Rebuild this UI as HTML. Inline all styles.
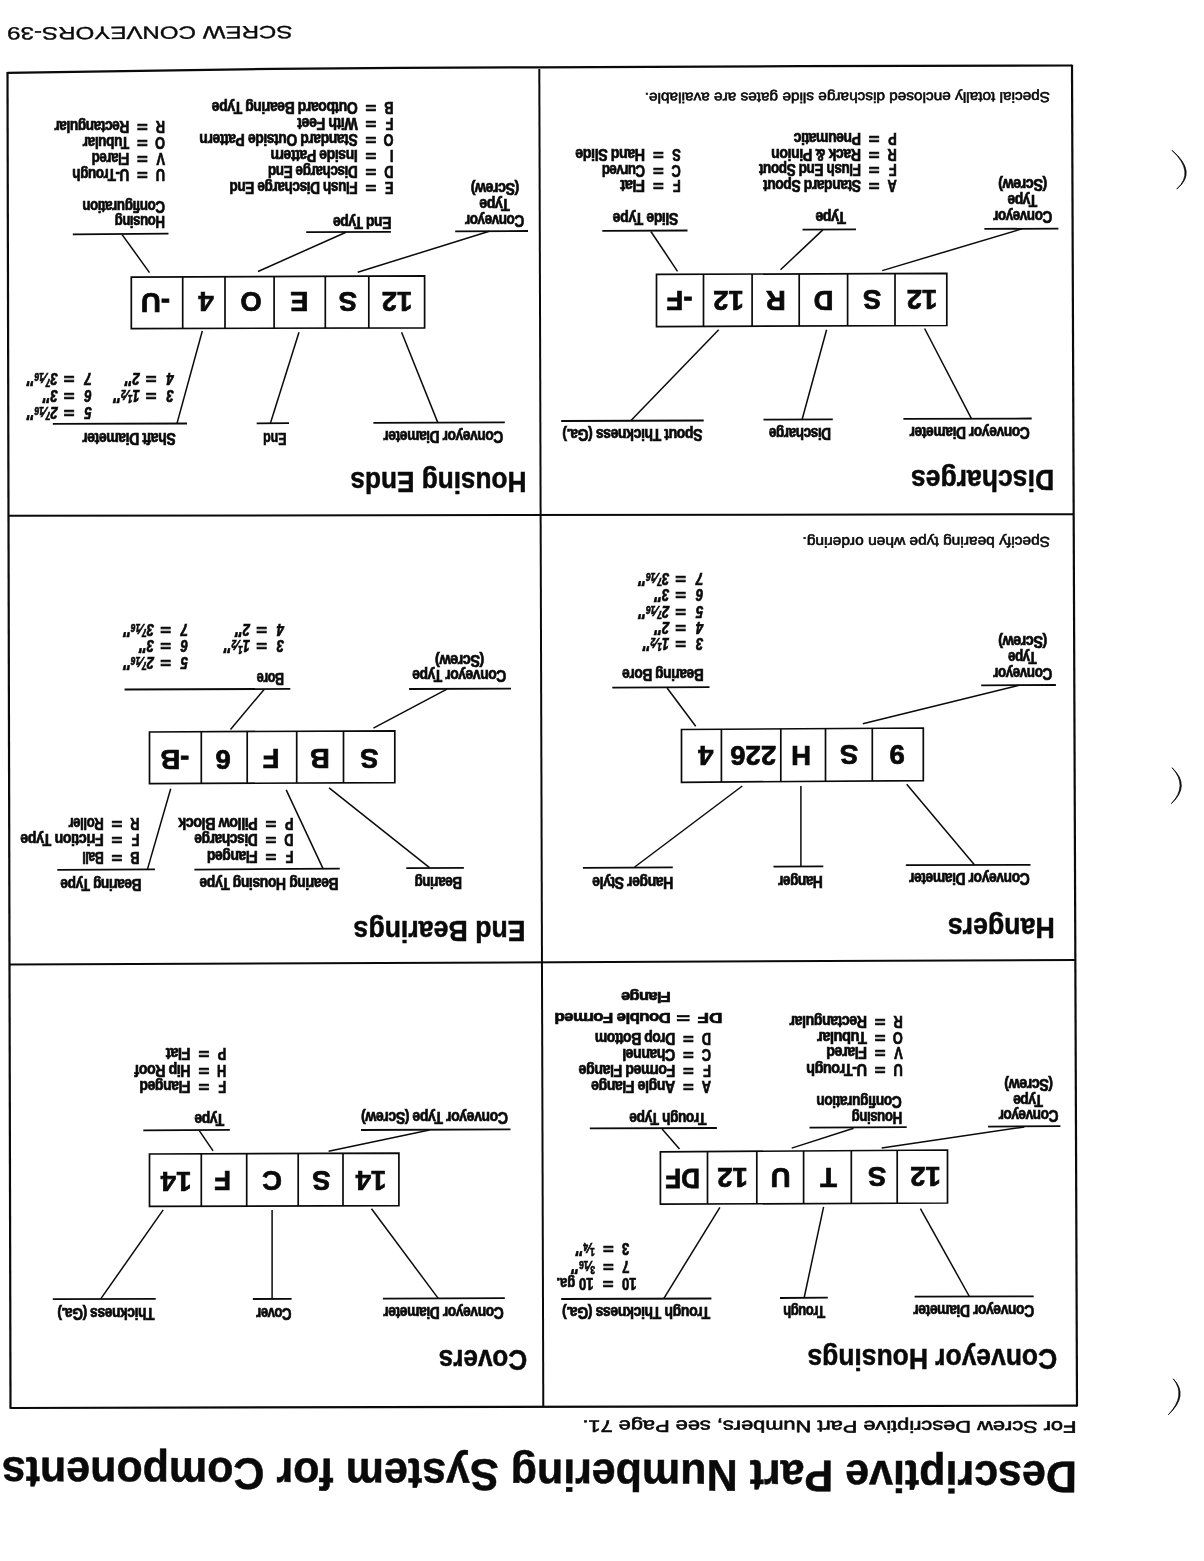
<!DOCTYPE html>
<html lang="en"><head><meta charset="utf-8"><title>Descriptive Part Numbering System for Components</title>
<style>
html,body{margin:0;padding:0;background:#fff}
svg{display:block;filter:blur(.35px)}
text{font-family:"Liberation Sans", Arial, Helvetica, sans-serif;fill:#0a0a0a;white-space:pre}
.b{font-weight:700;stroke:#0a0a0a;stroke-width:.7px}
.t{font-weight:700;stroke:#0a0a0a;stroke-width:.5px}
.x{font-weight:700;stroke:#0a0a0a;stroke-width:.75px}
.bi{font-weight:700;font-style:italic;stroke:#0a0a0a;stroke-width:.7px}
.r{font-weight:400;stroke:#0a0a0a;stroke-width:.6px}
.f{font-weight:400;stroke:#0a0a0a;stroke-width:.35px}
line,polygon,polyline,path{stroke:#0a0a0a;stroke-linecap:butt}
</style></head><body>
<svg width="1204" height="1561" viewBox="0 0 1204 1561">
<rect width="1204" height="1561" fill="#fff"/>
<polyline points="7.5,72.9 140,70.8 274,68.8 400,67.9 539,67.3 800,66.2 1072,65.5" fill="none" stroke-width="2.2"/>
<line x1="10.5" y1="1408.0" x2="1077.0" y2="1405.6" stroke-width="2.2"/>
<line x1="7.5" y1="72.0" x2="10.5" y2="1408.8" stroke-width="2.2"/>
<line x1="1072.0" y1="64.8" x2="1077.0" y2="1406.4" stroke-width="2.2"/>
<line x1="539.3" y1="69.0" x2="543.3" y2="1406.8" stroke-width="2.0"/>
<line x1="8.5" y1="515.8" x2="1073.5" y2="514.2" stroke-width="2.0"/>
<line x1="9.5" y1="964.6" x2="1075.0" y2="959.9" stroke-width="2.0"/>
<text class="f" transform="translate(292.4,25.9) rotate(179.7)" font-size="17.7" textLength="285.2" lengthAdjust="spacingAndGlyphs">SCREW CONVEYORS-39</text>
<text class="t" transform="translate(1077.1,1461.7) rotate(180.23)" font-size="44.3" textLength="1075.4" lengthAdjust="spacingAndGlyphs">Descriptive Part Numbering System for Components</text>
<text class="r" transform="translate(1076.4,1421.3) rotate(180.1)" font-size="16.6" textLength="494.0" lengthAdjust="spacingAndGlyphs">For Screw Descriptive Part Numbers, see Page 71.</text>
<path d="M1172,150.3 Q1197.8,172.3 1176.8,189 Q1195.4,172.3 1172,150.3Z" fill="#0a0a0a" stroke-width="0.8" stroke-linejoin="round"/>
<path d="M1172,767.7 Q1190.9,785.5 1171.4,803.6 Q1188.5,785.5 1172,767.7Z" fill="#0a0a0a" stroke-width="0.8" stroke-linejoin="round"/>
<path d="M1173.2,1378.8 Q1189.2,1395.2 1168.4,1414.7 Q1186.8,1395.2 1173.2,1378.8Z" fill="#0a0a0a" stroke-width="0.8" stroke-linejoin="round"/>
<text class="t" transform="translate(526.5,471.6) rotate(180)" font-size="29.5" textLength="176.2" lengthAdjust="spacingAndGlyphs">Housing Ends</text>
<polygon points="131.3,277.2 424.6,275.9 424.6,327.8 131.3,328.6" fill="none" stroke-width="1.7"/>
<line x1="182.7" y1="277.0" x2="182.7" y2="328.5" stroke-width="1.7"/>
<line x1="225.0" y1="276.8" x2="225.0" y2="328.3" stroke-width="1.7"/>
<line x1="274.1" y1="276.6" x2="274.1" y2="328.2" stroke-width="1.7"/>
<line x1="325.3" y1="276.3" x2="325.3" y2="328.1" stroke-width="1.7"/>
<line x1="368.8" y1="276.1" x2="368.8" y2="328.0" stroke-width="1.7"/>
<text class="x" transform="translate(155.5,292.6) rotate(180) scale(1.0,1)" font-size="27.5" text-anchor="middle">-U</text>
<text class="x" transform="translate(206.0,292.4) rotate(180) scale(1.0,1)" font-size="27.5" text-anchor="middle">4</text>
<text class="x" transform="translate(251.0,292.3) rotate(180) scale(1.0,1)" font-size="27.5" text-anchor="middle">O</text>
<text class="x" transform="translate(299.3,292.1) rotate(180) scale(1.0,1)" font-size="27.5" text-anchor="middle">E</text>
<text class="x" transform="translate(347.9,292.0) rotate(180) scale(1.0,1)" font-size="27.5" text-anchor="middle">S</text>
<text class="x" transform="translate(397.0,291.9) rotate(180) scale(1.0,1)" font-size="27.5" text-anchor="middle">12</text>
<text class="b" transform="translate(503.3,431.3) rotate(180) scale(0.866,1)" font-size="16.0" textLength="138.4" lengthAdjust="spacing">Conveyor Diameter</text>
<line x1="373.4" y1="422.9" x2="504.8" y2="422.4" stroke-width="1.8"/>
<line x1="401.6" y1="332.3" x2="437.7" y2="422.4" stroke-width="1.5"/>
<text class="b" transform="translate(286.6,433.2) rotate(180)" font-size="16.0" textLength="23.6" lengthAdjust="spacingAndGlyphs">End</text>
<line x1="256.7" y1="423.4" x2="289.0" y2="423.2" stroke-width="1.8"/>
<line x1="270.4" y1="423.2" x2="299.0" y2="332.3" stroke-width="1.5"/>
<text class="b" transform="translate(175.7,433.4) rotate(180) scale(0.878,1)" font-size="16.0" textLength="106.5" lengthAdjust="spacing">Shaft Diameter</text>
<line x1="52.8" y1="423.9" x2="187.0" y2="423.5" stroke-width="1.8"/>
<line x1="177.0" y1="423.4" x2="202.3" y2="331.0" stroke-width="1.5"/>
<text class="bi" transform="translate(173.7,373.2) rotate(180) scale(0.82,1)" font-size="16">4</text>
<text class="b" transform="translate(151.2,373.2) rotate(180) scale(1.15,1)" font-size="16" text-anchor="middle">=</text>
<text class="bi" transform="translate(139.7,373.2) rotate(180) scale(0.82,1)" font-size="16">2<tspan font-style="italic" font-size="19.2">″</tspan></text>
<text class="bi" transform="translate(91.7,373.2) rotate(180) scale(0.82,1)" font-size="16">7</text>
<text class="b" transform="translate(69.2,373.2) rotate(180) scale(1.15,1)" font-size="16" text-anchor="middle">=</text>
<text class="bi" transform="translate(57.7,373.2) rotate(180) scale(0.82,1)" font-size="16">3<tspan font-size="10.2" dy="-5.4">7</tspan><tspan font-size="14.4" dy="5.4">⁄</tspan><tspan font-size="10.2">16</tspan><tspan font-style="italic" font-size="19.2">″</tspan></text>
<text class="bi" transform="translate(173.7,389.6) rotate(180) scale(0.82,1)" font-size="16">3</text>
<text class="b" transform="translate(151.2,389.6) rotate(180) scale(1.15,1)" font-size="16" text-anchor="middle">=</text>
<text class="bi" transform="translate(139.7,389.6) rotate(180) scale(0.82,1)" font-size="16">1<tspan font-size="10.2" dy="-5.4">1</tspan><tspan font-size="14.4" dy="5.4">⁄</tspan><tspan font-size="10.2">2</tspan><tspan font-style="italic" font-size="19.2">″</tspan></text>
<text class="bi" transform="translate(91.7,389.6) rotate(180) scale(0.82,1)" font-size="16">6</text>
<text class="b" transform="translate(69.2,389.6) rotate(180) scale(1.15,1)" font-size="16" text-anchor="middle">=</text>
<text class="bi" transform="translate(57.7,389.6) rotate(180) scale(0.82,1)" font-size="16">3<tspan font-style="italic" font-size="19.2">″</tspan></text>
<text class="bi" transform="translate(91.7,406.6) rotate(180) scale(0.82,1)" font-size="16">5</text>
<text class="b" transform="translate(69.2,406.6) rotate(180) scale(1.15,1)" font-size="16" text-anchor="middle">=</text>
<text class="bi" transform="translate(57.7,406.6) rotate(180) scale(0.82,1)" font-size="16">2<tspan font-size="10.2" dy="-5.4">7</tspan><tspan font-size="14.4" dy="5.4">⁄</tspan><tspan font-size="10.2">16</tspan><tspan font-style="italic" font-size="19.2">″</tspan></text>
<text class="b" transform="translate(524.2,215.3) rotate(180) scale(0.852,1)" font-size="16.0" textLength="69.6" lengthAdjust="spacing">Conveyor</text>
<text class="b" transform="translate(509.8,199.3) rotate(180) scale(0.894,1)" font-size="16.0" textLength="34.1" lengthAdjust="spacing">Type</text>
<text class="b" transform="translate(519.2,183.2) rotate(180) scale(0.891,1)" font-size="16.0" textLength="54.5" lengthAdjust="spacing">(Screw)</text>
<line x1="455.2" y1="231.4" x2="528.0" y2="231.0" stroke-width="1.8"/>
<line x1="489.3" y1="231.2" x2="357.7" y2="272.3" stroke-width="1.5"/>
<text class="b" transform="translate(391.4,217.0) rotate(180) scale(0.874,1)" font-size="16.0" textLength="66.8" lengthAdjust="spacing">End Type</text>
<line x1="306.2" y1="232.2" x2="390.9" y2="231.9" stroke-width="1.8"/>
<line x1="346.0" y1="232.2" x2="258.0" y2="271.5" stroke-width="1.5"/>
<text class="b" transform="translate(165.0,216.0) rotate(180) scale(0.835,1)" font-size="16.0" textLength="60.4" lengthAdjust="spacing">Housing</text>
<text class="b" transform="translate(165.0,200.5) rotate(180) scale(0.837,1)" font-size="16.0" textLength="98.9" lengthAdjust="spacing">Configuration</text>
<line x1="72.8" y1="234.4" x2="168.5" y2="233.6" stroke-width="1.8"/>
<line x1="122.1" y1="234.6" x2="149.5" y2="272.6" stroke-width="1.5"/>
<text class="b" transform="translate(393.4,102.3) rotate(180) scale(0.8,1)" font-size="16.0">B</text>
<text class="b" transform="translate(370.9,102.3) rotate(180) scale(1.15,1)" font-size="16.0" text-anchor="middle">=</text>
<text class="b" transform="translate(357.7,102.3) rotate(180) scale(0.876,1)" font-size="16.0" textLength="166.6" lengthAdjust="spacing">Outboard Bearing Type</text>
<text class="b" transform="translate(393.4,118.1) rotate(180) scale(0.8,1)" font-size="16.0">F</text>
<text class="b" transform="translate(370.9,118.1) rotate(180) scale(1.15,1)" font-size="16.0" text-anchor="middle">=</text>
<text class="b" transform="translate(357.7,118.1) rotate(180) scale(0.890,1)" font-size="16.0" textLength="67.8" lengthAdjust="spacing">With Feet</text>
<text class="b" transform="translate(393.4,134.0) rotate(180) scale(0.8,1)" font-size="16.0">O</text>
<text class="b" transform="translate(370.9,134.0) rotate(180) scale(1.15,1)" font-size="16.0" text-anchor="middle">=</text>
<text class="b" transform="translate(357.7,134.0) rotate(180) scale(0.870,1)" font-size="16.0" textLength="182.0" lengthAdjust="spacing">Standard Outside Pattern</text>
<text class="b" transform="translate(393.4,149.8) rotate(180) scale(0.8,1)" font-size="16.0">I</text>
<text class="b" transform="translate(370.9,149.8) rotate(180) scale(1.15,1)" font-size="16.0" text-anchor="middle">=</text>
<text class="b" transform="translate(357.7,149.8) rotate(180) scale(0.875,1)" font-size="16.0" textLength="99.8" lengthAdjust="spacing">Inside Pattern</text>
<text class="b" transform="translate(393.4,165.6) rotate(180) scale(0.8,1)" font-size="16.0">D</text>
<text class="b" transform="translate(370.9,165.6) rotate(180) scale(1.15,1)" font-size="16.0" text-anchor="middle">=</text>
<text class="b" transform="translate(357.7,165.6) rotate(180) scale(0.850,1)" font-size="16.0" textLength="105.7" lengthAdjust="spacing">Discharge End</text>
<text class="b" transform="translate(393.4,181.5) rotate(180) scale(0.8,1)" font-size="16.0">E</text>
<text class="b" transform="translate(370.9,181.5) rotate(180) scale(1.15,1)" font-size="16.0" text-anchor="middle">=</text>
<text class="b" transform="translate(357.7,181.5) rotate(180) scale(0.855,1)" font-size="16.0" textLength="150.1" lengthAdjust="spacing">Flush Discharge End</text>
<text class="b" transform="translate(165.0,120.6) rotate(180) scale(0.8,1)" font-size="16.0">R</text>
<text class="b" transform="translate(142.5,120.6) rotate(180) scale(1.15,1)" font-size="16.0" text-anchor="middle">=</text>
<text class="b" transform="translate(129.3,120.6) rotate(180) scale(0.860,1)" font-size="16.0" textLength="87.2" lengthAdjust="spacing">Rectangular</text>
<text class="b" transform="translate(165.0,136.6) rotate(180) scale(0.8,1)" font-size="16.0">O</text>
<text class="b" transform="translate(142.5,136.6) rotate(180) scale(1.15,1)" font-size="16.0" text-anchor="middle">=</text>
<text class="b" transform="translate(129.3,136.6) rotate(180) scale(0.859,1)" font-size="16.0" textLength="54.2" lengthAdjust="spacing">Tubular</text>
<text class="b" transform="translate(165.0,152.6) rotate(180) scale(0.8,1)" font-size="16.0">V</text>
<text class="b" transform="translate(142.5,152.6) rotate(180) scale(1.15,1)" font-size="16.0" text-anchor="middle">=</text>
<text class="b" transform="translate(129.3,152.6) rotate(180) scale(0.830,1)" font-size="16.0" textLength="45.3" lengthAdjust="spacing">Flared</text>
<text class="b" transform="translate(165.0,168.8) rotate(180) scale(0.8,1)" font-size="16.0">U</text>
<text class="b" transform="translate(142.5,168.8) rotate(180) scale(1.15,1)" font-size="16.0" text-anchor="middle">=</text>
<text class="b" transform="translate(129.3,168.8) rotate(180) scale(0.850,1)" font-size="16.0" textLength="67.1" lengthAdjust="spacing">U-Trough</text>
<text class="t" transform="translate(1054.2,469.6) rotate(180)" font-size="29.5" textLength="143.3" lengthAdjust="spacingAndGlyphs">Discharges</text>
<polygon points="656.5,274.4 946.8,273.4 946.8,325.5 656.5,326.6" fill="none" stroke-width="1.7"/>
<line x1="703.5" y1="274.2" x2="703.5" y2="326.4" stroke-width="1.7"/>
<line x1="752.1" y1="274.1" x2="752.1" y2="326.2" stroke-width="1.7"/>
<line x1="799.2" y1="273.9" x2="799.2" y2="326.1" stroke-width="1.7"/>
<line x1="847.6" y1="273.7" x2="847.6" y2="325.9" stroke-width="1.7"/>
<line x1="895.0" y1="273.6" x2="895.0" y2="325.7" stroke-width="1.7"/>
<text class="x" transform="translate(679.5,291.2) rotate(180) scale(1.0,1)" font-size="27.5" text-anchor="middle">-F</text>
<text class="x" transform="translate(728.5,291.0) rotate(180) scale(1.0,1)" font-size="27.5" text-anchor="middle">12</text>
<text class="x" transform="translate(775.8,290.8) rotate(180) scale(1.0,1)" font-size="27.5" text-anchor="middle">R</text>
<text class="x" transform="translate(823.5,290.6) rotate(180) scale(1.0,1)" font-size="27.5" text-anchor="middle">D</text>
<text class="x" transform="translate(872.2,290.3) rotate(180) scale(1.0,1)" font-size="27.5" text-anchor="middle">S</text>
<text class="x" transform="translate(921.9,290.1) rotate(180) scale(1.0,1)" font-size="27.5" text-anchor="middle">12</text>
<text class="b" transform="translate(1029.8,426.9) rotate(180) scale(0.868,1)" font-size="16.0" textLength="138.4" lengthAdjust="spacing">Conveyor Diameter</text>
<line x1="903.4" y1="418.9" x2="1031.7" y2="418.5" stroke-width="1.8"/>
<line x1="924.6" y1="328.5" x2="971.4" y2="418.7" stroke-width="1.5"/>
<text class="b" transform="translate(831.0,427.5) rotate(180) scale(0.852,1)" font-size="16.0" textLength="73.0" lengthAdjust="spacing">Discharge</text>
<line x1="763.5" y1="419.7" x2="832.8" y2="419.4" stroke-width="1.8"/>
<line x1="826.6" y1="329.8" x2="802.1" y2="419.5" stroke-width="1.5"/>
<text class="b" transform="translate(702.5,428.9) rotate(180) scale(0.879,1)" font-size="16.0" textLength="159.4" lengthAdjust="spacing">Spout Thickness (Ga.)</text>
<line x1="561.2" y1="421.0" x2="703.7" y2="420.5" stroke-width="1.8"/>
<line x1="718.7" y1="329.8" x2="631.0" y2="420.6" stroke-width="1.5"/>
<text class="b" transform="translate(1052.2,210.9) rotate(180) scale(0.849,1)" font-size="16.0" textLength="69.6" lengthAdjust="spacing">Conveyor</text>
<text class="b" transform="translate(1037.2,195.0) rotate(180) scale(0.868,1)" font-size="16.0" textLength="34.1" lengthAdjust="spacing">Type</text>
<text class="b" transform="translate(1047.2,179.0) rotate(180) scale(0.900,1)" font-size="16.0" textLength="54.5" lengthAdjust="spacing">(Screw)</text>
<line x1="984.4" y1="228.9" x2="1058.4" y2="228.6" stroke-width="1.8"/>
<line x1="1021.8" y1="228.9" x2="882.2" y2="270.6" stroke-width="1.5"/>
<text class="b" transform="translate(846.1,211.6) rotate(180) scale(0.900,1)" font-size="16.0" textLength="34.1" lengthAdjust="spacing">Type</text>
<line x1="802.5" y1="229.6" x2="856.0" y2="229.3" stroke-width="1.8"/>
<line x1="822.8" y1="229.9" x2="780.5" y2="269.8" stroke-width="1.5"/>
<text class="b" transform="translate(678.3,213.2) rotate(180) scale(0.881,1)" font-size="16.0" textLength="74.4" lengthAdjust="spacing">Slide Type</text>
<line x1="602.3" y1="230.9" x2="687.5" y2="230.5" stroke-width="1.8"/>
<line x1="650.9" y1="231.5" x2="677.5" y2="271.3" stroke-width="1.5"/>
<text class="b" transform="translate(896.7,133.0) rotate(180) scale(0.8,1)" font-size="16.0">P</text>
<text class="b" transform="translate(874.2,133.0) rotate(180) scale(1.15,1)" font-size="16.0" text-anchor="middle">=</text>
<text class="b" transform="translate(861.0,133.0) rotate(180) scale(0.882,1)" font-size="16.0" textLength="76.3" lengthAdjust="spacing">Pneumatic</text>
<text class="b" transform="translate(896.7,148.7) rotate(180) scale(0.8,1)" font-size="16.0">R</text>
<text class="b" transform="translate(874.2,148.7) rotate(180) scale(1.15,1)" font-size="16.0" text-anchor="middle">=</text>
<text class="b" transform="translate(861.0,148.7) rotate(180) scale(0.885,1)" font-size="16.0" textLength="101.5" lengthAdjust="spacing">Rack &amp; Pinion</text>
<text class="b" transform="translate(896.7,164.3) rotate(180) scale(0.8,1)" font-size="16.0">F</text>
<text class="b" transform="translate(874.2,164.3) rotate(180) scale(1.15,1)" font-size="16.0" text-anchor="middle">=</text>
<text class="b" transform="translate(861.0,164.3) rotate(180) scale(0.852,1)" font-size="16.0" textLength="119.9" lengthAdjust="spacing">Flush End Spout</text>
<text class="b" transform="translate(896.7,180.0) rotate(180) scale(0.8,1)" font-size="16.0">A</text>
<text class="b" transform="translate(874.2,180.0) rotate(180) scale(1.15,1)" font-size="16.0" text-anchor="middle">=</text>
<text class="b" transform="translate(861.0,180.0) rotate(180) scale(0.872,1)" font-size="16.0" textLength="112.4" lengthAdjust="spacing">Standard Spout</text>
<text class="b" transform="translate(680.8,148.8) rotate(180) scale(0.8,1)" font-size="16.0">S</text>
<text class="b" transform="translate(658.3,148.8) rotate(180) scale(1.15,1)" font-size="16.0" text-anchor="middle">=</text>
<text class="b" transform="translate(645.1,148.8) rotate(180) scale(0.894,1)" font-size="16.0" textLength="78.0" lengthAdjust="spacing">Hand Slide</text>
<text class="b" transform="translate(680.8,164.5) rotate(180) scale(0.8,1)" font-size="16.0">C</text>
<text class="b" transform="translate(658.3,164.5) rotate(180) scale(1.15,1)" font-size="16.0" text-anchor="middle">=</text>
<text class="b" transform="translate(645.1,164.5) rotate(180) scale(0.833,1)" font-size="16.0" textLength="52.0" lengthAdjust="spacing">Curved</text>
<text class="b" transform="translate(680.8,180.4) rotate(180) scale(0.8,1)" font-size="16.0">F</text>
<text class="b" transform="translate(658.3,180.4) rotate(180) scale(1.15,1)" font-size="16.0" text-anchor="middle">=</text>
<text class="b" transform="translate(645.1,180.4) rotate(180) scale(0.928,1)" font-size="16.0" textLength="26.8" lengthAdjust="spacing">Flat</text>
<text class="r" transform="translate(1050.0,92.2) rotate(179.9)" font-size="14.3" textLength="405.3" lengthAdjust="spacingAndGlyphs">Special totally enclosed discharge slide gates are available.</text>
<text class="t" transform="translate(1054.7,918.3) rotate(180)" font-size="29.5" textLength="106.9" lengthAdjust="spacingAndGlyphs">Hangers</text>
<polygon points="681.5,729.5 923.3,728.0 923.3,780.6 681.5,782.3" fill="none" stroke-width="1.7"/>
<line x1="721.4" y1="729.3" x2="721.4" y2="782.0" stroke-width="1.7"/>
<line x1="780.8" y1="728.9" x2="780.8" y2="781.6" stroke-width="1.7"/>
<line x1="825.5" y1="728.6" x2="825.5" y2="781.3" stroke-width="1.7"/>
<line x1="872.3" y1="728.3" x2="872.3" y2="781.0" stroke-width="1.7"/>
<text class="x" transform="translate(705.8,746.0) rotate(180) scale(1.0,1)" font-size="27.5" text-anchor="middle">4</text>
<text class="x" transform="translate(753.2,745.8) rotate(180) scale(1.0,1)" font-size="27.5" text-anchor="middle">226</text>
<text class="x" transform="translate(801.0,745.5) rotate(180) scale(1.0,1)" font-size="27.5" text-anchor="middle">H</text>
<text class="x" transform="translate(849.1,745.2) rotate(180) scale(1.0,1)" font-size="27.5" text-anchor="middle">S</text>
<text class="x" transform="translate(897.2,745.0) rotate(180) scale(1.0,1)" font-size="27.5" text-anchor="middle">9</text>
<text class="b" transform="translate(1029.8,873.4) rotate(180) scale(0.873,1)" font-size="16.0" textLength="138.4" lengthAdjust="spacing">Conveyor Diameter</text>
<line x1="905.9" y1="865.2" x2="1030.5" y2="864.8" stroke-width="1.8"/>
<line x1="906.7" y1="784.3" x2="974.4" y2="864.8" stroke-width="1.5"/>
<text class="b" transform="translate(822.8,875.9) rotate(180) scale(0.861,1)" font-size="16.0" textLength="52.0" lengthAdjust="spacing">Hanger</text>
<line x1="773.5" y1="866.6" x2="823.3" y2="866.4" stroke-width="1.8"/>
<line x1="800.9" y1="786.0" x2="800.9" y2="866.2" stroke-width="1.5"/>
<text class="b" transform="translate(673.3,876.8) rotate(180) scale(0.878,1)" font-size="16.0" textLength="92.3" lengthAdjust="spacing">Hanger Style</text>
<line x1="582.9" y1="867.8" x2="672.8" y2="867.3" stroke-width="1.8"/>
<line x1="742.3" y1="786.0" x2="634.7" y2="867.0" stroke-width="1.5"/>
<text class="b" transform="translate(1052.2,667.8) rotate(180) scale(0.849,1)" font-size="16.0" textLength="69.6" lengthAdjust="spacing">Conveyor</text>
<text class="b" transform="translate(1036.7,652.2) rotate(180) scale(0.838,1)" font-size="16.0" textLength="34.1" lengthAdjust="spacing">Type</text>
<text class="b" transform="translate(1047.2,636.2) rotate(180) scale(0.900,1)" font-size="16.0" textLength="54.5" lengthAdjust="spacing">(Screw)</text>
<line x1="981.2" y1="685.4" x2="1055.9" y2="685.0" stroke-width="1.8"/>
<line x1="1019.3" y1="685.2" x2="862.8" y2="723.8" stroke-width="1.5"/>
<text class="b" transform="translate(703.7,669.4) rotate(180) scale(0.860,1)" font-size="16.0" textLength="94.8" lengthAdjust="spacing">Bearing Bore</text>
<line x1="612.3" y1="687.6" x2="709.5" y2="687.2" stroke-width="1.8"/>
<line x1="667.1" y1="688.0" x2="695.7" y2="726.3" stroke-width="1.5"/>
<text class="bi" transform="translate(703.2,572.9) rotate(180) scale(0.82,1)" font-size="16">7</text>
<text class="b" transform="translate(680.7,572.9) rotate(180) scale(1.15,1)" font-size="16" text-anchor="middle">=</text>
<text class="bi" transform="translate(669.2,572.9) rotate(180) scale(0.82,1)" font-size="16">3<tspan font-size="10.2" dy="-5.4">7</tspan><tspan font-size="14.4" dy="5.4">⁄</tspan><tspan font-size="10.2">16</tspan><tspan font-style="italic" font-size="19.2">″</tspan></text>
<text class="bi" transform="translate(703.2,589.3) rotate(180) scale(0.82,1)" font-size="16">6</text>
<text class="b" transform="translate(680.7,589.3) rotate(180) scale(1.15,1)" font-size="16" text-anchor="middle">=</text>
<text class="bi" transform="translate(669.2,589.3) rotate(180) scale(0.82,1)" font-size="16">3<tspan font-style="italic" font-size="19.2">″</tspan></text>
<text class="bi" transform="translate(703.2,605.7) rotate(180) scale(0.82,1)" font-size="16">5</text>
<text class="b" transform="translate(680.7,605.7) rotate(180) scale(1.15,1)" font-size="16" text-anchor="middle">=</text>
<text class="bi" transform="translate(669.2,605.7) rotate(180) scale(0.82,1)" font-size="16">2<tspan font-size="10.2" dy="-5.4">7</tspan><tspan font-size="14.4" dy="5.4">⁄</tspan><tspan font-size="10.2">16</tspan><tspan font-style="italic" font-size="19.2">″</tspan></text>
<text class="bi" transform="translate(703.2,622.0) rotate(180) scale(0.82,1)" font-size="16">4</text>
<text class="b" transform="translate(680.7,622.0) rotate(180) scale(1.15,1)" font-size="16" text-anchor="middle">=</text>
<text class="bi" transform="translate(669.2,622.0) rotate(180) scale(0.82,1)" font-size="16">2<tspan font-style="italic" font-size="19.2">″</tspan></text>
<text class="bi" transform="translate(703.2,637.8) rotate(180) scale(0.82,1)" font-size="16">3</text>
<text class="b" transform="translate(680.7,637.8) rotate(180) scale(1.15,1)" font-size="16" text-anchor="middle">=</text>
<text class="bi" transform="translate(669.2,637.8) rotate(180) scale(0.82,1)" font-size="16">1<tspan font-size="10.2" dy="-5.4">1</tspan><tspan font-size="14.4" dy="5.4">⁄</tspan><tspan font-size="10.2">2</tspan><tspan font-style="italic" font-size="19.2">″</tspan></text>
<text class="r" transform="translate(1050.0,536.9) rotate(179.9)" font-size="14.3" textLength="247.5" lengthAdjust="spacingAndGlyphs">Specify bearing type when ordering.</text>
<text class="t" transform="translate(525.5,921.0) rotate(180)" font-size="29.5" textLength="172.0" lengthAdjust="spacingAndGlyphs">End Bearings</text>
<polygon points="149.5,732.0 394.8,730.8 394.8,782.6 149.5,783.7" fill="none" stroke-width="1.7"/>
<line x1="201.3" y1="731.7" x2="201.3" y2="783.5" stroke-width="1.7"/>
<line x1="247.2" y1="731.5" x2="247.2" y2="783.3" stroke-width="1.7"/>
<line x1="296.7" y1="731.3" x2="296.7" y2="783.0" stroke-width="1.7"/>
<line x1="343.5" y1="731.1" x2="343.5" y2="782.8" stroke-width="1.7"/>
<text class="x" transform="translate(174.8,749.8) rotate(180) scale(1.0,1)" font-size="27.5" text-anchor="middle">-B</text>
<text class="x" transform="translate(223.1,749.6) rotate(180) scale(1.0,1)" font-size="27.5" text-anchor="middle">6</text>
<text class="x" transform="translate(271.1,749.4) rotate(180) scale(1.0,1)" font-size="27.5" text-anchor="middle">F</text>
<text class="x" transform="translate(319.9,749.2) rotate(180) scale(1.0,1)" font-size="27.5" text-anchor="middle">B</text>
<text class="x" transform="translate(369.4,749.0) rotate(180) scale(1.0,1)" font-size="27.5" text-anchor="middle">S</text>
<text class="b" transform="translate(461.9,877.2) rotate(180) scale(0.842,1)" font-size="16.0" textLength="56.2" lengthAdjust="spacing">Bearing</text>
<line x1="406.3" y1="868.2" x2="463.9" y2="867.8" stroke-width="1.8"/>
<line x1="329.1" y1="787.9" x2="429.5" y2="867.6" stroke-width="1.5"/>
<text class="b" transform="translate(338.6,877.8) rotate(180) scale(0.875,1)" font-size="16.0" textLength="159.1" lengthAdjust="spacing">Bearing Housing Type</text>
<line x1="194.4" y1="869.6" x2="339.8" y2="868.6" stroke-width="1.8"/>
<line x1="286.2" y1="789.9" x2="322.9" y2="868.4" stroke-width="1.5"/>
<text class="b" transform="translate(141.5,879.0) rotate(180) scale(0.859,1)" font-size="16.0" textLength="94.5" lengthAdjust="spacing">Bearing Type</text>
<line x1="57.3" y1="869.9" x2="155.0" y2="869.4" stroke-width="1.8"/>
<line x1="170.7" y1="788.7" x2="147.5" y2="869.1" stroke-width="1.5"/>
<text class="b" transform="translate(506.3,670.4) rotate(180) scale(0.873,1)" font-size="16.0" textLength="107.9" lengthAdjust="spacing">Conveyor Type</text>
<text class="b" transform="translate(484.3,654.6) rotate(180) scale(0.904,1)" font-size="16.0" textLength="54.5" lengthAdjust="spacing">(Screw)</text>
<line x1="409.1" y1="689.0" x2="511.0" y2="688.6" stroke-width="1.8"/>
<line x1="447.0" y1="689.2" x2="373.4" y2="728.2" stroke-width="1.5"/>
<text class="b" transform="translate(284.1,672.6) rotate(180) scale(0.797,1)" font-size="16.0" textLength="34.4" lengthAdjust="spacing">Bore</text>
<line x1="124.6" y1="689.5" x2="290.3" y2="688.9" stroke-width="1.8"/>
<line x1="264.1" y1="689.4" x2="230.5" y2="729.5" stroke-width="1.5"/>
<text class="bi" transform="translate(284.1,624.0) rotate(180) scale(0.82,1)" font-size="16">4</text>
<text class="b" transform="translate(261.6,624.0) rotate(180) scale(1.15,1)" font-size="16" text-anchor="middle">=</text>
<text class="bi" transform="translate(250.1,624.0) rotate(180) scale(0.82,1)" font-size="16">2<tspan font-style="italic" font-size="19.2">″</tspan></text>
<text class="bi" transform="translate(188.1,624.0) rotate(180) scale(0.82,1)" font-size="16">7</text>
<text class="b" transform="translate(165.6,624.0) rotate(180) scale(1.15,1)" font-size="16" text-anchor="middle">=</text>
<text class="bi" transform="translate(154.1,624.0) rotate(180) scale(0.82,1)" font-size="16">3<tspan font-size="10.2" dy="-5.4">7</tspan><tspan font-size="14.4" dy="5.4">⁄</tspan><tspan font-size="10.2">16</tspan><tspan font-style="italic" font-size="19.2">″</tspan></text>
<text class="bi" transform="translate(284.1,640.2) rotate(180) scale(0.82,1)" font-size="16">3</text>
<text class="b" transform="translate(261.6,640.2) rotate(180) scale(1.15,1)" font-size="16" text-anchor="middle">=</text>
<text class="bi" transform="translate(250.1,640.2) rotate(180) scale(0.82,1)" font-size="16">1<tspan font-size="10.2" dy="-5.4">1</tspan><tspan font-size="14.4" dy="5.4">⁄</tspan><tspan font-size="10.2">2</tspan><tspan font-style="italic" font-size="19.2">″</tspan></text>
<text class="bi" transform="translate(188.1,640.2) rotate(180) scale(0.82,1)" font-size="16">6</text>
<text class="b" transform="translate(165.6,640.2) rotate(180) scale(1.15,1)" font-size="16" text-anchor="middle">=</text>
<text class="bi" transform="translate(154.1,640.2) rotate(180) scale(0.82,1)" font-size="16">3<tspan font-style="italic" font-size="19.2">″</tspan></text>
<text class="bi" transform="translate(188.1,656.9) rotate(180) scale(0.82,1)" font-size="16">5</text>
<text class="b" transform="translate(165.6,656.9) rotate(180) scale(1.15,1)" font-size="16" text-anchor="middle">=</text>
<text class="bi" transform="translate(154.1,656.9) rotate(180) scale(0.82,1)" font-size="16">2<tspan font-size="10.2" dy="-5.4">7</tspan><tspan font-size="14.4" dy="5.4">⁄</tspan><tspan font-size="10.2">16</tspan><tspan font-style="italic" font-size="19.2">″</tspan></text>
<text class="b" transform="translate(293.5,818.4) rotate(180) scale(0.8,1)" font-size="16.0">P</text>
<text class="b" transform="translate(271.0,818.4) rotate(180) scale(1.15,1)" font-size="16.0" text-anchor="middle">=</text>
<text class="b" transform="translate(257.8,818.4) rotate(180) scale(0.895,1)" font-size="16.0" textLength="88.9" lengthAdjust="spacing">Pillow Block</text>
<text class="b" transform="translate(293.5,834.4) rotate(180) scale(0.8,1)" font-size="16.0">D</text>
<text class="b" transform="translate(271.0,834.4) rotate(180) scale(1.15,1)" font-size="16.0" text-anchor="middle">=</text>
<text class="b" transform="translate(257.8,834.4) rotate(180) scale(0.869,1)" font-size="16.0" textLength="73.0" lengthAdjust="spacing">Discharge</text>
<text class="b" transform="translate(293.5,851.2) rotate(180) scale(0.8,1)" font-size="16.0">F</text>
<text class="b" transform="translate(271.0,851.2) rotate(180) scale(1.15,1)" font-size="16.0" text-anchor="middle">=</text>
<text class="b" transform="translate(257.8,851.2) rotate(180) scale(0.881,1)" font-size="16.0" textLength="57.9" lengthAdjust="spacing">Flanged</text>
<text class="b" transform="translate(139.5,818.4) rotate(180) scale(0.8,1)" font-size="16.0">R</text>
<text class="b" transform="translate(117.0,818.4) rotate(180) scale(1.15,1)" font-size="16.0" text-anchor="middle">=</text>
<text class="b" transform="translate(103.8,818.4) rotate(180) scale(0.825,1)" font-size="16.0" textLength="42.8" lengthAdjust="spacing">Roller</text>
<text class="b" transform="translate(139.5,834.4) rotate(180) scale(0.8,1)" font-size="16.0">F</text>
<text class="b" transform="translate(117.0,834.4) rotate(180) scale(1.15,1)" font-size="16.0" text-anchor="middle">=</text>
<text class="b" transform="translate(103.8,834.4) rotate(180) scale(0.891,1)" font-size="16.0" textLength="93.6" lengthAdjust="spacing">Friction Type</text>
<text class="b" transform="translate(139.5,851.6) rotate(180) scale(0.8,1)" font-size="16.0">B</text>
<text class="b" transform="translate(117.0,851.6) rotate(180) scale(1.15,1)" font-size="16.0" text-anchor="middle">=</text>
<text class="b" transform="translate(103.8,851.6) rotate(180) scale(0.780,1)" font-size="16.0" textLength="27.7" lengthAdjust="spacing">Ball</text>
<text class="t" transform="translate(1057.2,1348.9) rotate(180)" font-size="29.5" textLength="249.7" lengthAdjust="spacingAndGlyphs">Conveyor Housings</text>
<polygon points="660.4,1151.9 947.5,1150.0 947.5,1203.0 660.4,1204.2" fill="none" stroke-width="1.7"/>
<line x1="707.5" y1="1151.6" x2="707.5" y2="1204.0" stroke-width="1.7"/>
<line x1="756.8" y1="1151.3" x2="756.8" y2="1203.8" stroke-width="1.7"/>
<line x1="803.6" y1="1151.0" x2="803.6" y2="1203.6" stroke-width="1.7"/>
<line x1="851.3" y1="1150.6" x2="851.3" y2="1203.4" stroke-width="1.7"/>
<line x1="897.2" y1="1150.3" x2="897.2" y2="1203.2" stroke-width="1.7"/>
<text class="x" transform="translate(682.7,1168.6) rotate(180) scale(0.95,1)" font-size="27.5" text-anchor="middle">DF</text>
<text class="x" transform="translate(732.4,1168.3) rotate(180) scale(1.0,1)" font-size="27.5" text-anchor="middle">12</text>
<text class="x" transform="translate(780.5,1168.0) rotate(180) scale(1.0,1)" font-size="27.5" text-anchor="middle">U</text>
<text class="x" transform="translate(828.6,1167.6) rotate(180) scale(1.0,1)" font-size="27.5" text-anchor="middle">T</text>
<text class="x" transform="translate(877.0,1167.3) rotate(180) scale(1.0,1)" font-size="27.5" text-anchor="middle">S</text>
<text class="x" transform="translate(925.4,1167.0) rotate(180) scale(1.0,1)" font-size="27.5" text-anchor="middle">12</text>
<text class="b" transform="translate(1034.2,1305.2) rotate(180) scale(0.873,1)" font-size="16.0" textLength="138.4" lengthAdjust="spacing">Conveyor Diameter</text>
<line x1="914.6" y1="1296.7" x2="1033.7" y2="1296.3" stroke-width="1.8"/>
<line x1="920.4" y1="1208.6" x2="969.4" y2="1296.5" stroke-width="1.5"/>
<text class="b" transform="translate(825.3,1306.0) rotate(180) scale(0.827,1)" font-size="16.0" textLength="51.1" lengthAdjust="spacing">Trough</text>
<line x1="780.0" y1="1298.0" x2="827.8" y2="1297.7" stroke-width="1.8"/>
<line x1="823.6" y1="1206.8" x2="804.2" y2="1297.5" stroke-width="1.5"/>
<text class="b" transform="translate(710.2,1306.6) rotate(180) scale(0.884,1)" font-size="16.0" textLength="167.7" lengthAdjust="spacing">Trough Thickness (Ga.)</text>
<line x1="561.2" y1="1299.0" x2="711.4" y2="1298.5" stroke-width="1.8"/>
<line x1="719.9" y1="1207.3" x2="663.9" y2="1298.3" stroke-width="1.5"/>
<text class="b" transform="translate(629.2,1243.0) rotate(180) scale(0.82,1)" font-size="16">3</text>
<text class="b" transform="translate(608.4,1243.0) rotate(180) scale(1.15,1)" font-size="16" text-anchor="middle">=</text>
<text class="b" transform="translate(594.7,1243.0) rotate(180) scale(0.82,1)" font-size="16"><tspan font-size="10.2" dy="-5.4">1</tspan><tspan font-size="14.4" dy="5.4">⁄</tspan><tspan font-size="10.2">4</tspan><tspan font-style="italic" font-size="19.2">″</tspan></text>
<text class="b" transform="translate(629.5,1260.6) rotate(180) scale(0.82,1)" font-size="16">7</text>
<text class="b" transform="translate(608.5,1260.6) rotate(180) scale(1.15,1)" font-size="16" text-anchor="middle">=</text>
<text class="b" transform="translate(595.0,1260.6) rotate(180) scale(0.82,1)" font-size="16"><tspan font-size="10.2" dy="-5.4">3</tspan><tspan font-size="14.4" dy="5.4">⁄</tspan><tspan font-size="10.2">16</tspan><tspan font-style="italic" font-size="19.2">″</tspan></text>
<text class="b" transform="translate(636.6,1278.2) rotate(180) scale(0.82,1)" font-size="16">10</text>
<text class="b" transform="translate(608.2,1278.2) rotate(180) scale(1.15,1)" font-size="16" text-anchor="middle">=</text>
<text class="b" transform="translate(593.6,1278.2) rotate(180) scale(0.82,1)" font-size="16">10 ga.</text>
<text class="b" transform="translate(1058.4,1110.4) rotate(180) scale(0.859,1)" font-size="16.0" textLength="69.6" lengthAdjust="spacing">Conveyor</text>
<text class="b" transform="translate(1043.0,1094.6) rotate(180) scale(0.877,1)" font-size="16.0" textLength="34.1" lengthAdjust="spacing">Type</text>
<text class="b" transform="translate(1052.9,1078.8) rotate(180) scale(0.891,1)" font-size="16.0" textLength="54.5" lengthAdjust="spacing">(Screw)</text>
<line x1="988.1" y1="1126.6" x2="1060.4" y2="1126.2" stroke-width="1.8"/>
<line x1="1024.3" y1="1126.9" x2="881.7" y2="1148.1" stroke-width="1.5"/>
<text class="b" transform="translate(902.2,1111.6) rotate(180) scale(0.838,1)" font-size="16.0" textLength="60.4" lengthAdjust="spacing">Housing</text>
<text class="b" transform="translate(901.7,1095.6) rotate(180) scale(0.864,1)" font-size="16.0" textLength="98.9" lengthAdjust="spacing">Configuration</text>
<line x1="809.5" y1="1127.6" x2="906.7" y2="1127.2" stroke-width="1.8"/>
<line x1="853.6" y1="1128.2" x2="791.7" y2="1148.1" stroke-width="1.5"/>
<text class="b" transform="translate(706.5,1113.2) rotate(180) scale(0.864,1)" font-size="16.0" textLength="89.4" lengthAdjust="spacing">Trough Type</text>
<line x1="589.8" y1="1128.4" x2="716.9" y2="1128.0" stroke-width="1.8"/>
<line x1="662.1" y1="1128.9" x2="679.5" y2="1148.9" stroke-width="1.5"/>
<text class="b" transform="translate(902.7,1016.2) rotate(180) scale(0.8,1)" font-size="16.0">R</text>
<text class="b" transform="translate(880.2,1016.2) rotate(180) scale(1.15,1)" font-size="16.0" text-anchor="middle">=</text>
<text class="b" transform="translate(867.0,1016.2) rotate(180) scale(0.888,1)" font-size="16.0" textLength="87.2" lengthAdjust="spacing">Rectangular</text>
<text class="b" transform="translate(902.7,1031.6) rotate(180) scale(0.8,1)" font-size="16.0">O</text>
<text class="b" transform="translate(880.2,1031.6) rotate(180) scale(1.15,1)" font-size="16.0" text-anchor="middle">=</text>
<text class="b" transform="translate(867.0,1031.6) rotate(180) scale(0.922,1)" font-size="16.0" textLength="54.2" lengthAdjust="spacing">Tubular</text>
<text class="b" transform="translate(902.7,1047.4) rotate(180) scale(0.8,1)" font-size="16.0">V</text>
<text class="b" transform="translate(880.2,1047.4) rotate(180) scale(1.15,1)" font-size="16.0" text-anchor="middle">=</text>
<text class="b" transform="translate(867.0,1047.4) rotate(180) scale(0.901,1)" font-size="16.0" textLength="45.3" lengthAdjust="spacing">Flared</text>
<text class="b" transform="translate(902.7,1063.6) rotate(180) scale(0.8,1)" font-size="16.0">U</text>
<text class="b" transform="translate(880.2,1063.6) rotate(180) scale(1.15,1)" font-size="16.0" text-anchor="middle">=</text>
<text class="b" transform="translate(867.0,1063.6) rotate(180) scale(0.906,1)" font-size="16.0" textLength="67.1" lengthAdjust="spacing">U-Trough</text>
<text class="b" transform="translate(710.9,1033.0) rotate(180) scale(0.8,1)" font-size="16.0">D</text>
<text class="b" transform="translate(688.4,1033.0) rotate(180) scale(1.15,1)" font-size="16.0" text-anchor="middle">=</text>
<text class="b" transform="translate(675.2,1033.0) rotate(180) scale(0.872,1)" font-size="16.0" textLength="92.2" lengthAdjust="spacing">Drop Bottom</text>
<text class="b" transform="translate(710.9,1049.2) rotate(180) scale(0.8,1)" font-size="16.0">C</text>
<text class="b" transform="translate(688.4,1049.2) rotate(180) scale(1.15,1)" font-size="16.0" text-anchor="middle">=</text>
<text class="b" transform="translate(675.2,1049.2) rotate(180) scale(0.890,1)" font-size="16.0" textLength="59.5" lengthAdjust="spacing">Channel</text>
<text class="b" transform="translate(710.9,1065.2) rotate(180) scale(0.8,1)" font-size="16.0">F</text>
<text class="b" transform="translate(688.4,1065.2) rotate(180) scale(1.15,1)" font-size="16.0" text-anchor="middle">=</text>
<text class="b" transform="translate(675.2,1065.2) rotate(180) scale(0.893,1)" font-size="16.0" textLength="108.2" lengthAdjust="spacing">Formed Flange</text>
<text class="b" transform="translate(710.9,1081.2) rotate(180) scale(0.8,1)" font-size="16.0">A</text>
<text class="b" transform="translate(688.4,1081.2) rotate(180) scale(1.15,1)" font-size="16.0" text-anchor="middle">=</text>
<text class="b" transform="translate(675.2,1081.2) rotate(180) scale(0.887,1)" font-size="16.0" textLength="94.8" lengthAdjust="spacing">Angle Flange</text>
<text class="b" transform="translate(722.4,1012.6) rotate(180)" font-size="15.4" textLength="24.9" lengthAdjust="spacingAndGlyphs">DF</text>
<text class="b" transform="translate(683.3,1012.6) rotate(180) scale(1.5,1)" font-size="15.4" text-anchor="middle">=</text>
<text class="b" transform="translate(670.8,1012.6) rotate(180) scale(1.092,1)" font-size="15.4" textLength="106.5" lengthAdjust="spacing">Double Formed</text>
<text class="b" transform="translate(670.8,992.2) rotate(180) scale(1.064,1)" font-size="15.4" textLength="46.8" lengthAdjust="spacing">Flange</text>
<text class="t" transform="translate(527.2,1350.3) rotate(180)" font-size="29.5" textLength="88.5" lengthAdjust="spacingAndGlyphs">Covers</text>
<polygon points="149.5,1154.0 398.9,1153.2 398.9,1205.6 149.5,1206.4" fill="none" stroke-width="1.7"/>
<line x1="201.3" y1="1153.8" x2="201.3" y2="1206.2" stroke-width="1.7"/>
<line x1="246.7" y1="1153.7" x2="246.7" y2="1206.1" stroke-width="1.7"/>
<line x1="298.2" y1="1153.5" x2="298.2" y2="1205.9" stroke-width="1.7"/>
<line x1="343.0" y1="1153.4" x2="343.0" y2="1205.8" stroke-width="1.7"/>
<text class="x" transform="translate(176.1,1171.6) rotate(180) scale(1.0,1)" font-size="27.5" text-anchor="middle">14</text>
<text class="x" transform="translate(222.7,1171.4) rotate(180) scale(1.0,1)" font-size="27.5" text-anchor="middle">F</text>
<text class="x" transform="translate(272.0,1171.2) rotate(180) scale(1.0,1)" font-size="27.5" text-anchor="middle">C</text>
<text class="x" transform="translate(321.4,1171.0) rotate(180) scale(1.0,1)" font-size="27.5" text-anchor="middle">S</text>
<text class="x" transform="translate(370.9,1170.8) rotate(180) scale(1.0,1)" font-size="27.5" text-anchor="middle">14</text>
<text class="b" transform="translate(503.8,1306.6) rotate(180) scale(0.870,1)" font-size="16.0" textLength="138.4" lengthAdjust="spacing">Conveyor Diameter</text>
<line x1="382.9" y1="1298.6" x2="504.8" y2="1298.2" stroke-width="1.8"/>
<line x1="371.5" y1="1208.7" x2="438.2" y2="1298.4" stroke-width="1.5"/>
<text class="b" transform="translate(291.6,1307.8) rotate(180) scale(0.827,1)" font-size="16.0" textLength="42.8" lengthAdjust="spacing">Cover</text>
<line x1="252.9" y1="1299.0" x2="291.6" y2="1298.8" stroke-width="1.8"/>
<line x1="272.1" y1="1210.0" x2="272.1" y2="1298.9" stroke-width="1.5"/>
<text class="b" transform="translate(154.5,1307.6) rotate(180) scale(0.865,1)" font-size="16.0" textLength="112.4" lengthAdjust="spacing">Thickness (Ga.)</text>
<line x1="52.8" y1="1299.2" x2="155.7" y2="1298.8" stroke-width="1.8"/>
<line x1="163.2" y1="1209.9" x2="100.9" y2="1298.6" stroke-width="1.5"/>
<text class="b" transform="translate(508.0,1112.2) rotate(180) scale(0.882,1)" font-size="16.0" textLength="166.6" lengthAdjust="spacing">Conveyor Type (Screw)</text>
<line x1="361.0" y1="1130.0" x2="510.5" y2="1129.4" stroke-width="1.8"/>
<line x1="429.5" y1="1130.1" x2="328.6" y2="1151.3" stroke-width="1.5"/>
<text class="b" transform="translate(224.3,1114.2) rotate(180) scale(0.877,1)" font-size="16.0" textLength="34.1" lengthAdjust="spacing">Type</text>
<line x1="143.3" y1="1130.4" x2="229.8" y2="1129.9" stroke-width="1.8"/>
<line x1="199.4" y1="1130.8" x2="213.1" y2="1150.8" stroke-width="1.5"/>
<text class="b" transform="translate(226.3,1048.4) rotate(180) scale(0.8,1)" font-size="16.0">P</text>
<text class="b" transform="translate(203.8,1048.4) rotate(180) scale(1.15,1)" font-size="16.0" text-anchor="middle">=</text>
<text class="b" transform="translate(190.6,1048.4) rotate(180) scale(0.928,1)" font-size="16.0" textLength="26.8" lengthAdjust="spacing">Flat</text>
<text class="b" transform="translate(226.3,1065.2) rotate(180) scale(0.8,1)" font-size="16.0">H</text>
<text class="b" transform="translate(203.8,1065.2) rotate(180) scale(1.15,1)" font-size="16.0" text-anchor="middle">=</text>
<text class="b" transform="translate(190.6,1065.2) rotate(180) scale(0.891,1)" font-size="16.0" textLength="62.9" lengthAdjust="spacing">Hip Roof</text>
<text class="b" transform="translate(226.3,1081.4) rotate(180) scale(0.8,1)" font-size="16.0">F</text>
<text class="b" transform="translate(203.8,1081.4) rotate(180) scale(1.15,1)" font-size="16.0" text-anchor="middle">=</text>
<text class="b" transform="translate(190.6,1081.4) rotate(180) scale(0.883,1)" font-size="16.0" textLength="57.9" lengthAdjust="spacing">Flanged</text>
</svg>
</body></html>
